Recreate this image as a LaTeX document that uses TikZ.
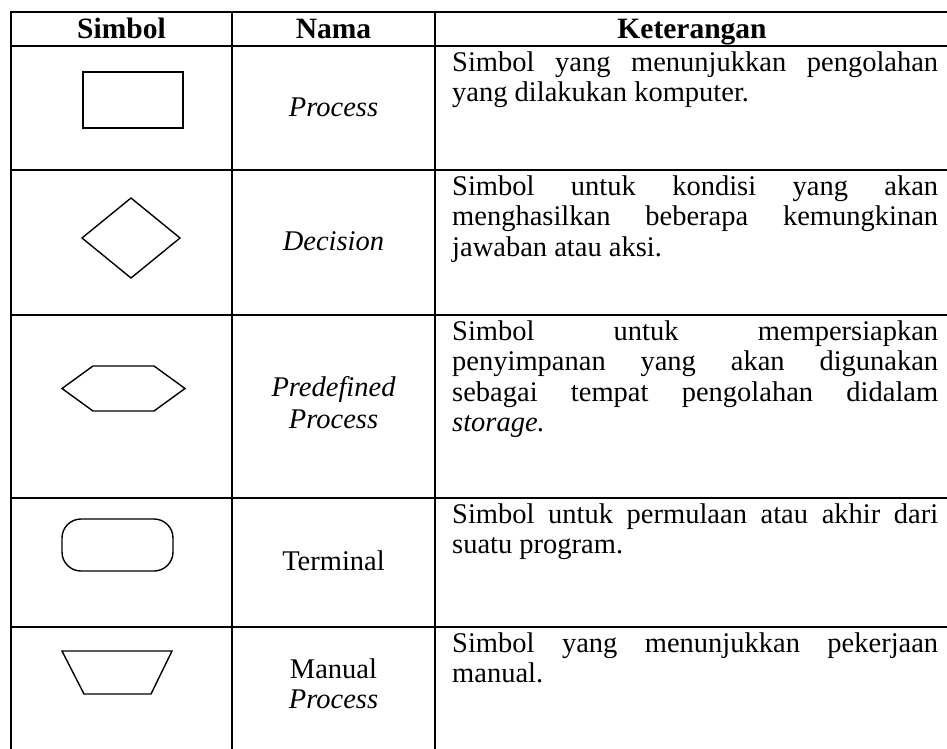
\documentclass[tikz,border=0pt]{standalone}
\usepackage{fontspec}
\setmainfont{Liberation Serif}
\begin{document}
\begin{tikzpicture}[x=1pt, y=-1pt,
  rule/.style={line width=2pt},
  sym/.style={line width=1.4pt, line join=miter},
  txt/.style={inner sep=0pt, font=\fontsize{28.5}{30.5}\selectfont},
  headtxt/.style={txt, anchor=base, font=\fontsize{29.5}{30.5}\selectfont\bfseries},
  nametxt/.style={txt, anchor=base},
  desc/.style={txt, anchor=north west, text width=486pt, align=justify,
    execute at begin node={\pretolerance=10000\tolerance=10000\hyphenpenalty=10000\noindent\strut}}]
\useasboundingbox (0,0) rectangle (947,749);
\fill[white] (0,0) rectangle (947,749);

% table rules
\draw[rule] (11,12) -- (947,12);
\draw[rule] (11,46) -- (947,46);
\draw[rule] (11,170) -- (947,170);
\draw[rule] (11,315) -- (947,315);
\draw[rule] (11,498) -- (947,498);
\draw[rule] (11,627) -- (947,627);
\draw[rule] (11,11) -- (11,749);
\draw[rule] (232,11) -- (232,749);
\draw[rule] (435,11) -- (435,749);

% header
\node[headtxt] (hSym) at (121.5,39) {Simbol};
\node[headtxt] (hName) at (333.5,39) {Nama};
\node[headtxt] (hDesc) at (692,39) {Keterangan};

% symbols
\draw[sym] (83,72) rectangle (183,128);
\draw[sym] (131,198) -- (180,238) -- (131,278) -- (82,238) -- cycle;
\draw[sym] (62,388.5) -- (93,366) -- (154,366) -- (185,388.5) -- (154,411) -- (93,411) -- cycle;
% terminal: stadium-like box with corner radius 19
\draw[sym] (81,519) -- (154,519)
  .. controls (164.5,519) and (173,527.5) .. (173,538) -- (173,552)
  .. controls (173,562.5) and (164.5,571) .. (154,571) -- (81,571)
  .. controls (70.5,571) and (62,562.5) .. (62,552) -- (62,538)
  .. controls (62,527.5) and (70.5,519) .. (81,519) -- cycle;
\draw[sym] (62,651) -- (172,651) -- (151,694) -- (84,694) -- cycle;

% names
\node[nametxt] (n1) at (333.5,117) {\itshape Process};
\node[nametxt] (n2) at (333.5,250) {\itshape Decision};
\node[nametxt] (n3a) at (333.5,396) {\itshape Predefined};
\node[nametxt] (n3b) at (333.5,428) {\itshape Process};
\node[nametxt] (n4) at (333.5,570) {Terminal};
\node[nametxt] (n5a) at (333.5,678) {Manual};
\node[nametxt] (n5b) at (333.5,708) {\itshape Process};

% descriptions: first baseline 25pt below the row rule
\node[desc] (d1) at (452,49.65) {Simbol yang menunjukkan pengolahan\linebreak yang dilakukan komputer.};
\node[desc] (d2) at (452,173.65) {Simbol untuk kondisi yang akan\linebreak menghasilkan beberapa kemungkinan\linebreak jawaban atau aksi.};
\node[desc] (d3) at (452,318.65) {Simbol untuk mempersiapkan\linebreak penyimpanan yang akan digunakan\linebreak sebagai tempat pengolahan didalam\linebreak \textit{storage.}};
\node[desc] (d4) at (452,501.65) {Simbol untuk permulaan atau akhir dari\linebreak suatu program.};
\node[desc] (d5) at (452,630.65) {Simbol yang menunjukkan pekerjaan\linebreak manual.};
\end{tikzpicture}
\end{document}
